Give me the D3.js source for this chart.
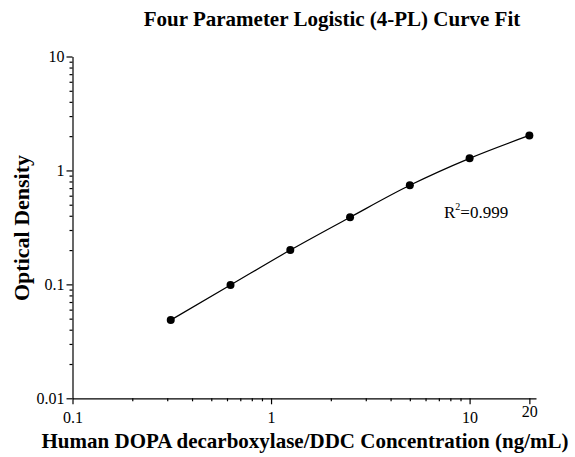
<!DOCTYPE html>
<html><head><meta charset="utf-8">
<script src="https://cdn.jsdelivr.net/npm/d3@7"></script>
<style>body{margin:0;background:#fff}svg{display:block}text{font-family:"Liberation Serif","Times New Roman",serif}</style>
</head><body><svg id="c" width="575" height="457"></svg>
<script>
const concentrations = [0.3125, 0.625, 1.25, 2.5, 5, 10, 20];
const odValues = [0.0486, 0.0986, 0.200, 0.388, 0.740, 1.277, 2.03];
const xTickLabels = [0.1, 1, 10, 20];
const yTickLabels = [0.01, 0.1, 1, 10];
const xMinor = [0.2,0.3,0.4,0.5,0.6,0.7,0.8,0.9,2,3,4,5,6,7,8,9];
const yMinor = [0.02,0.03,0.04,0.05,0.06,0.07,0.08,0.09,0.2,0.3,0.4,0.5,0.6,0.7,0.8,0.9,2,3,4,5,6,7,8,9];

const svg = d3.select("#c");
const x = d3.scaleLog().domain([0.1, 21.6]).range([72.5, 536]);
const y = d3.scaleLog().domain([0.01, 10]).range([398.3, 56.5]);

const fmt = d => String(d);
svg.append("g").attr("transform","translate(0,398.3)")
  .call(d3.axisBottom(x).tickValues(xTickLabels).tickFormat(fmt).tickSize(6).tickSizeOuter(0))
  .call(g=>g.selectAll("text").attr("font-size",16).attr("dy","1.0em"))
  .call(g=>g.selectAll(".tick").filter(d=>d===20).select("text").attr("y",3));
svg.append("g").attr("transform","translate(0,398.3)")
  .call(d3.axisBottom(x).tickValues(xMinor).tickFormat("").tickSize(3).tickSizeOuter(0))
  .call(g=>g.select(".domain").remove());
svg.append("g").attr("transform","translate(72.5,0)")
  .call(d3.axisLeft(y).tickValues(yTickLabels).tickFormat(fmt).tickSize(6).tickSizeOuter(0))
  .call(g=>g.selectAll("text").attr("font-size",16).attr("x",-8));
svg.append("g").attr("transform","translate(72.5,0)")
  .call(d3.axisLeft(y).tickValues(yMinor).tickFormat("").tickSize(3).tickSizeOuter(0))
  .call(g=>g.select(".domain").remove());
svg.selectAll(".domain, .tick line").attr("stroke","#000").attr("stroke-width",1.2);

const pts = concentrations.map((c,i)=>[x(c), y(odValues[i])]);
svg.append("path").attr("d", d3.line().curve(d3.curveMonotoneX)(pts))
  .attr("fill","none").attr("stroke","#000").attr("stroke-width",1.2);
svg.selectAll("circle.pt").data(concentrations).join("circle")
  .attr("cx",(d)=>x(d)).attr("cy",(d,i)=>y(odValues[i])).attr("r",4).attr("fill","#000");

svg.append("text").attr("x",332).attr("y",26).attr("text-anchor","middle")
  .attr("font-size",21).attr("font-weight","bold").text("Four Parameter Logistic (4-PL) Curve Fit");
svg.append("text").attr("x",305).attr("y",448).attr("text-anchor","middle")
  .attr("font-size",21).attr("font-weight","bold").text("Human DOPA decarboxylase/DDC Concentration (ng/mL)");
svg.append("text").attr("transform","translate(29,228) rotate(-90)").attr("text-anchor","middle")
  .attr("font-size",22).attr("font-weight","bold").text("Optical Density");
const r = svg.append("text").attr("x",444).attr("y",218).attr("font-size",17);
r.append("tspan").text("R");
r.append("tspan").attr("font-size",10).attr("dy",-8).text("2");
r.append("tspan").attr("dy",8).text("=0.999");
</script></body></html>
